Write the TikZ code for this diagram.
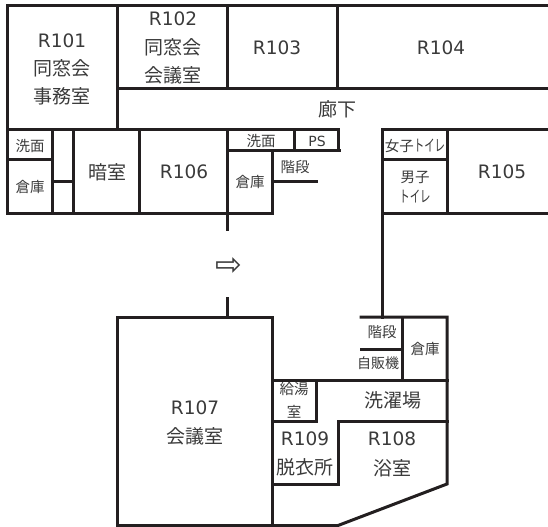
\documentclass[tikz,border=0pt]{standalone}
\usepackage{fontspec}
\setmainfont{DejaVu Sans}
\newfontfamily\cjk{Noto Sans CJK JP}[Scale=1]
\definecolor{ink}{HTML}{3A3A3A}
\definecolor{wall}{HTML}{231F20}
\tikzset{
  wallline/.style={draw=wall,line width=3bp,line cap=rect},
  big/.style={text=ink,inner sep=0pt,font=\fontsize{18.5bp}{18.5bp}\selectfont},
  mid/.style={text=ink,inner sep=0pt,font=\fontsize{19bp}{19bp}\selectfont\cjk},
  small/.style={text=ink,inner sep=0pt,font=\fontsize{14.5bp}{14.5bp}\selectfont\cjk},
}
\begin{document}
\begin{tikzpicture}[x=1bp,y=-1bp]
\useasboundingbox (0,0) rectangle (548,527);
% upper building
\draw[wallline] (7.5,5.5) -- (548,5.5);
\draw[wallline] (7.5,5.5) -- (7.5,213) -- (272,213);
\draw[wallline] (117.5,5.5) -- (117.5,130);
\draw[wallline] (227,5.5) -- (227,89);
\draw[wallline] (337,5.5) -- (337,89);
\draw[wallline] (117.5,89) -- (548,89);
\draw[wallline] (7.5,130) -- (338,130) -- (338,151);
\draw[wallline] (52,130) -- (52,213);
\draw[wallline] (73,130) -- (73,213);
\draw[wallline] (139,130) -- (139,213);
\draw[wallline] (227,130) -- (227,229);
\draw[wallline] (294,130) -- (294,151);
\draw[wallline] (227,151) -- (339,151);
\draw[wallline] (272,151) -- (272,213);
\draw[wallline] (272,182) -- (316,182);
\draw[wallline] (7.5,160) -- (52,160);
\draw[wallline] (52,182) -- (73,182);
% right wing
\draw[wallline] (548,130) -- (382,130) -- (382,317);
\draw[wallline] (447,130) -- (447,213);
\draw[wallline] (382,160) -- (447,160);
\draw[wallline] (382,213) -- (548,213);
% lower building
\draw[wallline] (227,298) -- (227,317);
\draw[wallline] (117.5,317) rectangle (272,525.5);
\draw[wallline] (361,317) -- (447,317) -- (447,484) -- (338,525.5) -- (272,525.5);
\draw[wallline] (402,317) -- (402,380);
\draw[wallline] (361,349) -- (402,349);
\draw[wallline] (272,380) -- (447,380);
\draw[wallline] (316,380) -- (316,421);
\draw[wallline] (272,421) -- (316,421);
\draw[wallline] (447,421) -- (338,421) -- (338,484) -- (272,484);
% labels
\node[big] (r101) at (62,41) {R101};
\node[mid] (r101a) at (62,68) {同窓会};
\node[mid] (r101b) at (62,96) {事務室};
\node[big] (r102) at (173,19) {R102};
\node[mid] (r102a) at (173,47) {同窓会};
\node[mid] (r102b) at (173,75) {会議室};
\node[big] (r103) at (277,48) {R103};
\node[big] (r104) at (441,48) {R104};
\node[mid] (hall) at (337,109) {廊下};
\node[small] (wash1) at (30,146) {洗面};
\node[small] (store1) at (30,187) {倉庫};
\node[mid] (dark) at (107,172) {暗室};
\node[big] (r106) at (184,172) {R106};
\node[small] (wash2) at (261,141) {洗面};
\node[text=ink,inner sep=0pt,font=\fontsize{14bp}{14bp}\selectfont] (ps) at (317,141) {PS};
\node[small] (stair1) at (295,167) {階段};
\node[small] (store2) at (250,182) {倉庫};
\node[small] (wc1) at (415,146) {女子\scalebox{.72}[1.1]{トイレ}};
\node[small] (wc2a) at (415,177) {男子};
\node[small] (wc2b) at (415,197) {\scalebox{.72}[1.1]{トイレ}};
\node[big] (r105) at (502,172) {R105};
\node[text=ink,inner sep=0pt,font=\fontsize{32bp}{32bp}\selectfont] (arrow) at (228.5,267) {⇨};
\node[big] (r107) at (195,408) {R107};
\node[mid] (r107a) at (195,436) {会議室};
\node[small] (stair2) at (382,332) {階段};
\node[text=ink,inner sep=0pt,font=\fontsize{14bp}{14bp}\selectfont\cjk] (vend) at (378,363) {自販機};
\node[small] (store3) at (425,349) {倉庫};
\node[small] (kyu1) at (294,389) {給湯};
\node[small] (kyu2) at (294,412) {室};
\node[mid] (laundry) at (393,400) {洗濯場};
\node[big] (r109) at (305,439) {R109};
\node[mid] (r109a) at (305,467) {脱衣所};
\node[big] (r108) at (392,439) {R108};
\node[mid] (r108a) at (392,468) {浴室};
\end{tikzpicture}
\end{document}
